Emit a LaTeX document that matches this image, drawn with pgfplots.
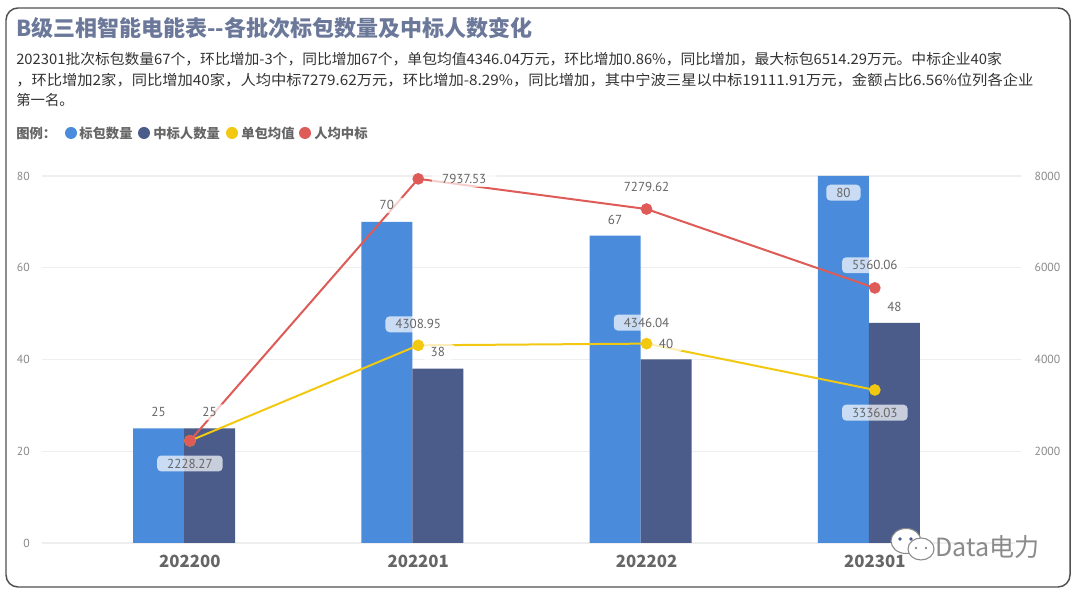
\documentclass[border=0pt]{standalone}
\usepackage{pgfplots}
\pgfplotsset{compat=1.18}
\usepackage{fontspec}
\setmainfont{Noto Sans CJK SC}
\newfontfamily\numfont{PT Sans}
\definecolor{cBlue}{HTML}{4A8CDB}
\definecolor{cNavy}{HTML}{4B5B8A}
\definecolor{cYellow}{HTML}{F2C811}
\definecolor{cRed}{HTML}{DE5B57}
\definecolor{cTitle}{HTML}{6B7899}
\definecolor{cText}{HTML}{333333}
\definecolor{cGrid}{HTML}{EEEEEE}
\definecolor{cTick}{HTML}{8A8A8A}
\definecolor{cLab}{HTML}{666666}
\definecolor{cFrame}{HTML}{505050}
\begin{document}
\begin{tikzpicture}[x=0.75pt,y=0.75pt,
  dl/.style={font=\numfont\fontsize{9.8}{11}\selectfont, text=cLab, fill=white, fill opacity=0.7, text opacity=1, rounded corners=3pt, inner xsep=7.5pt, inner ysep=2.4pt}]
\path[use as bounding box, fill=white] (0,0) rectangle (1080,595);
\draw[cFrame, line width=1.1pt, rounded corners=9pt] (6,8) rectangle (1070,587);
% title and text
\node[anchor=west, inner sep=0pt, text=cTitle, font=\fontsize{16.5}{19}\selectfont\bfseries] at (16,567) {B级三相智能电能表-{}-各批次标包数量及中标人数变化};
\node[anchor=west, inner sep=0pt, text=cText, font=\fontsize{10.8}{12}\selectfont] at (16,536) {\scalebox{1.027}[1]{202301批次标包数量67个，环比增加-3个，同比增加67个，单包均值4346.04万元，环比增加0.86\%，同比增加，最大标包6514.29万元。中标企业40家}};
\node[anchor=west, inner sep=0pt, text=cText, font=\fontsize{10.8}{12}\selectfont] at (16,515) {\scalebox{1.062}[1]{，环比增加2家，同比增加40家，人均中标7279.62万元，环比增加-8.29\%，同比增加，其中宁波三星以中标19111.91万元，金额占比6.56\%位列各企业}};
\node[anchor=west, inner sep=0pt, text=cText, font=\fontsize{10.8}{12}\selectfont] at (16,495) {第一名。};
% legend
\node[anchor=west, inner sep=0pt, text=cLab, font=\fontsize{10}{12}\selectfont\bfseries] at (16,462) {图例：};
\fill[cBlue] (71,462) circle[radius=6];
\node[anchor=west, inner sep=0pt, text=cLab, font=\fontsize{10}{12}\selectfont\bfseries] at (79,462) {标包数量};
\fill[cNavy] (144,462) circle[radius=6];
\node[anchor=west, inner sep=0pt, text=cLab, font=\fontsize{10}{12}\selectfont\bfseries] at (153,462) {中标人数量};
\fill[cYellow] (232,462) circle[radius=6];
\node[anchor=west, inner sep=0pt, text=cLab, font=\fontsize{10}{12}\selectfont\bfseries] at (241,462) {单包均值};
\fill[cRed] (305,462) circle[radius=6];
\node[anchor=west, inner sep=0pt, text=cLab, font=\fontsize{10}{12}\selectfont\bfseries] at (314,462) {人均中标};
% bars (left axis)
\begin{axis}[
  at={(31.5pt,39pt)}, anchor=south west,
  scale only axis, width=729.75pt, height=275.25pt,
  xmin=-0.648, xmax=3.614, ymin=0, ymax=80,
  axis line style={draw=none},
  tick style={draw=none}, major tick length=0pt,
  xtick={0,1,2,3}, xticklabels={202200,202201,202202,202301},
  xticklabel style={font=\fontsize{12.6}{14}\selectfont\bfseries, text=cLab, anchor=center, inner sep=0pt, yshift=-13.5pt},
  ytick={0,20,40,60,80}, ymajorgrids,
  grid style={cGrid, line width=1.1pt},
  yticklabel style={font=\numfont\fontsize{8.8}{10}\selectfont, text=cTick, anchor=east, inner sep=0pt, xshift=-9pt},
  /pgf/number format/assume math mode=true,
]
\addplot[ybar, bar width=38.25pt, bar shift=0pt, fill=cBlue, draw=none] coordinates {(-0.1377,25) (0.8623,70) (1.8623,67) (2.8623,80)};
\addplot[ybar, bar width=38.25pt, bar shift=0pt, fill=cNavy, draw=none] coordinates {(0.0857,25) (1.0857,38) (2.0857,40) (3.0857,48)};
\end{axis}
% lines (right axis)
\begin{axis}[
  at={(31.5pt,39pt)}, anchor=south west,
  scale only axis, width=729.75pt, height=275.25pt,
  xmin=-0.648, xmax=3.614, ymin=0, ymax=8000,
  axis line style={draw=none},
  xtick=\empty,
  ytick={2000,4000,6000,8000}, ytick pos=right, yticklabel pos=right,
  tick style={cGrid, line width=1.1pt}, major tick length=4.5pt, tick align=outside,
  yticklabel style={font=\numfont\fontsize{8.8}{10}\selectfont, text=cTick, anchor=west, inner sep=0pt, xshift=10pt},
  scaled y ticks=false,
  /pgf/number format/assume math mode=true,
  /pgf/number format/set thousands separator={},
  clip=false,
]
\addplot[cYellow, line width=1.5pt, mark=*, mark size=3.6pt, mark options={fill=cYellow, draw=cYellow}] coordinates {(0,2228.27) (1,4308.95) (2,4346.04) (3,3336.03)};
\addplot[cRed, line width=1.5pt, mark=*, mark size=3.6pt, mark options={fill=cRed, draw=cRed}] coordinates {(0,2228.27) (1,7937.53) (2,7279.62) (3,5560.06)};
% bar labels
\node[dl, yshift=12pt] at (axis cs:-0.1377,2500) {25};
\node[dl, yshift=12pt] at (axis cs:0.0857,2500) {25};
\node[dl, yshift=12.5pt] at (axis cs:0.8623,7000) {70};
\node[dl, yshift=12.5pt] at (axis cs:1.0857,3800) {38};
\node[dl, yshift=12pt] at (axis cs:1.8623,6700) {67};
\node[dl, yshift=12pt] at (axis cs:2.0857,4000) {40};
\node[dl, yshift=-12.5pt] at (axis cs:2.8623,8000) {80};
\node[dl, yshift=12pt] at (axis cs:3.0857,4800) {48};
% line labels
\node[dl, yshift=-17pt] at (axis cs:0,2228.27) {2228.27};
\node[dl, yshift=15.75pt] at (axis cs:1,4308.95) {4308.95};
\node[dl, xshift=34.5pt] at (axis cs:1,7937.53) {7937.53};
\node[dl, yshift=16.5pt] at (axis cs:2,7279.62) {7279.62};
\node[dl, yshift=15.75pt] at (axis cs:2,4346.04) {4346.04};
\node[dl, yshift=17pt] at (axis cs:3,5560.06) {5560.06};
\node[dl, yshift=-17pt] at (axis cs:3,3336.03) {3336.03};
\end{axis}
% watermark
\begin{scope}[draw=cTick, line width=0.8pt]
\filldraw[fill=white] (906,54) ellipse[x radius=15, y radius=12.5];
\fill[cNavy] (900,56) circle[radius=1.8];
\fill[cNavy] (911,56) circle[radius=1.8];
\filldraw[fill=white] (921,46) ellipse[x radius=13, y radius=11];
\fill[cTick] (916,47) circle[radius=1.4];
\fill[cTick] (926,47) circle[radius=1.4];
\end{scope}
\node[anchor=west, inner sep=0pt, text=cTick, font=\fontsize{18.8}{22}\selectfont] at (935,48) {Data电力};
\end{tikzpicture}
\end{document}
